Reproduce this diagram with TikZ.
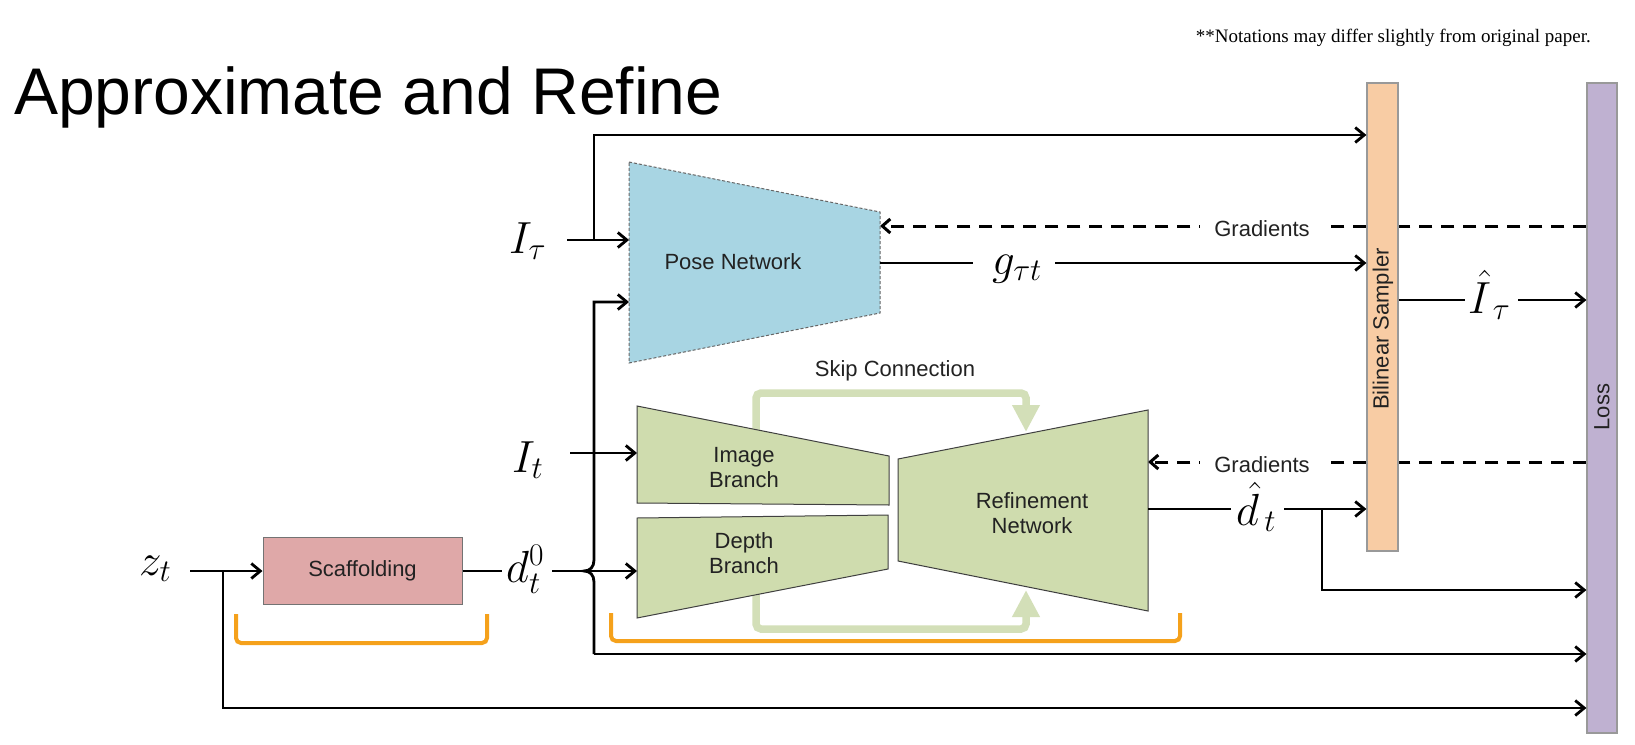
\RequirePackage{fix-cm}
\documentclass[tikz,border=0pt]{standalone}
\usepackage{fontspec}
\setmainfont{Liberation Sans}
\newfontfamily\notefont{Liberation Serif}
\usetikzlibrary{arrows.meta}
\pgfdeclarelayer{bg}
\pgfsetlayers{bg,main}
\definecolor{posecol}{HTML}{A8D5E3}
\definecolor{grncol}{HTML}{CFDCAE}
\definecolor{skipcol}{HTML}{D3DFB8}
\definecolor{scafcol}{HTML}{DFA8A8}
\definecolor{bilcol}{HTML}{F8CCA4}
\definecolor{losscol}{HTML}{BFB1D1}
\definecolor{brkcol}{HTML}{F5A11B}
\definecolor{txtcol}{HTML}{222222}
\begin{document}
\begin{tikzpicture}[x=1pt,y=-1pt,
  ln/.style={line width=2.8pt,draw=black},
  arr/.style={ln,-{Straight Barb[length=9pt,width=15pt]}},
  gline/.style={line width=3pt,draw=black,dash pattern=on 13pt off 9pt},
  garr/.style={gline,-{Straight Barb[length=8pt,width=14pt]}},
  lbl/.style={font=\fontsize{22}{25}\selectfont,text=txtcol,inner sep=0pt,align=center},
  mlbl/.style={font=\fontsize{45}{50}\selectfont,inner sep=0pt,anchor=base west},
  bar/.style={draw=black!40,line width=1.2pt,inner sep=0pt},
  net/.style={draw=black!75,line width=1pt,fill=grncol},
  skiptip/.style={draw=skipcol,line width=7.5pt,rounded corners=5pt,-{Triangle[length=27pt,width=26pt]}},
  brk/.style={draw=brkcol,line width=4pt,rounded corners=5pt},
]
\begin{pgfonlayer}{bg}
\fill[white] (0,0) rectangle (1635,744);
\end{pgfonlayer}
\useasboundingbox (0,0) rectangle (1635,744);

% title and note
\node[anchor=base west,inner sep=0pt,font=\fontsize{66}{72}\selectfont] (title) at (14,114) {Approximate and Refine};
\node[anchor=base east,inner sep=0pt,font=\notefont\fontsize{19}{22}\selectfont] (note) at (1591,42) {**Notations may differ slightly from original paper.};

% ports
\coordinate (pin1) at (629,240);
\coordinate (pin2) at (629,302);
\coordinate (poseOut) at (880,263);
\coordinate (poseGr) at (880,226);
\coordinate (ibIn) at (637,453);
\coordinate (dbIn) at (637,571);
\coordinate (refOut) at (1148,509);
\coordinate (refGr) at (1148,462);

% skip connections (behind the networks)
\draw[skiptip] (756,432) -- (756,393) -- (1026,393) -- (1026,432);
\draw[skiptip] (756,594) -- (756,629) -- (1026,629) -- (1026,590);

% networks
\path[fill=posecol,draw=black!60,line width=1pt,dash pattern=on 3pt off 2pt]
  (629,162) -- (880,212) -- (880,313) -- (629,363) -- cycle;
\path[net] (637,406) -- (889,456) -- (889,505) -- (637,503) -- cycle;
\path[net] (637,518) -- (888,515) -- (888,569) -- (637,618) -- cycle;
\path[net] (898,459) -- (1148,410) -- (1148,611) -- (898,561) -- cycle;

\node[lbl] (poseT) at (733,262) {Pose Network};
\node[lbl] (imgT) at (744,468) {Image\\Branch};
\node[lbl] (depT) at (744,553) {Depth\\Branch};
\node[lbl] (refT) at (1032,513) {Refinement\\Network};
\node[lbl] (skipT) at (895,371) {Skip Connection};

% scaffolding
\node[draw=black!55,line width=1pt,fill=scafcol,minimum width=199pt,minimum height=67pt,
  inner sep=0pt,font=\fontsize{22}{25}\selectfont,text=txtcol] (scaf) at (362.5,571) {Scaffolding};

% brackets
\draw[brk] (236,614) -- (236,643) -- (487,643) -- (487,614);
\draw[brk] (611,613) -- (611,641) -- (1180,641) -- (1180,613);

% bars
\node[bar,fill=bilcol,minimum width=31pt,minimum height=468pt] (bil) at (1382.5,317) {};
\node[bar,fill=losscol,minimum width=30pt,minimum height=650pt] (loss) at (1602,408) {};
\node[lbl,rotate=90] (bilT) at (1383,329) {Bilinear Sampler};
\node[lbl,rotate=90] (lossT) at (1602,407) {Loss};

% gradients (dashed, behind the bars)
\begin{pgfonlayer}{bg}
\draw[garr] (loss.west |- poseGr) -- (poseGr);
\draw[garr] (loss.west |- refGr) -- (refGr);
\end{pgfonlayer}
\node[lbl,fill=white,inner xsep=14pt,inner ysep=2pt] (grad1) at (1262,229) {Gradients};
\node[lbl,fill=white,inner xsep=14pt,inner ysep=2pt] (grad2) at (1262,465) {Gradients};

% math labels
\node[mlbl] (Itau) at (509,253) {$I_\tau$};
\node[mlbl] (It) at (512,472) {$I_t$};
\node[mlbl] (zt) at (139,575) {$z_t$};
\node[mlbl] (d0) at (506,582) {$d_t^0$};
\node[mlbl] (g) at (992,274) {$g_{\tau t}$};
\node[mlbl] (dh) at (1236,525) {$\hat{d}_{\,t}$};
\node[mlbl] (Ih) at (1468,313) {$\hat{I}_{\,\tau}$};

% connector coordinates
\coordinate (itauS) at (567,240);
\coordinate (jTop) at (594,240);
\coordinate (cTop) at (594,135);
\coordinate (cLow) at (594,302);
\coordinate (hopT) at (594,560);
\coordinate (hopTip) at (584,571);
\coordinate (hopB) at (594,582);
\coordinate (jBot) at (594,654);
\coordinate (itS) at (570,453);
\coordinate (ztS) at (190,571);
\coordinate (jZ) at (223,571);
\coordinate (jZb) at (223,708);
\coordinate (d0L) at (502,571);
\coordinate (d0R) at (552,571);
\coordinate (gL) at (973,263);
\coordinate (gR) at (1055,263);
\coordinate (dhL) at (1231,509);
\coordinate (dhR) at (1284,509);
\coordinate (jD) at (1322,509);
\coordinate (jDb) at (1322,590);
\coordinate (ihL) at (1465,300);
\coordinate (ihR) at (1518,300);

% connectors
\draw[arr] (jTop) -- (cTop) -- (bil.west |- cTop);
\draw[arr] (itauS) -- (pin1);
\draw[arr] (jBot) -- (hopB) .. controls (594,575) and (590,571) .. (hopTip)
  .. controls (590,571) and (594,567) .. (hopT) -- (cLow) -- (pin2);
\draw[arr] (jBot) -- (loss.west |- jBot);
\draw[ln] (scaf.east) -- (d0L);
\draw[arr] (d0R) -- (dbIn);
\draw[arr] (ztS) -- (scaf.west);
\draw[arr] (jZ) -- (jZb) -- (loss.west |- jZb);
\draw[arr] (itS) -- (ibIn);
\draw[ln] (poseOut) -- (gL);
\draw[arr] (gR) -- (bil.west |- gR);
\draw[ln] (refOut) -- (dhL);
\draw[arr] (dhR) -- (bil.west |- dhR);
\draw[arr] (jD) -- (jDb) -- (loss.west |- jDb);
\draw[ln] (bil.east |- ihL) -- (ihL);
\draw[arr] (ihR) -- (loss.west |- ihR);
\end{tikzpicture}
\end{document}
